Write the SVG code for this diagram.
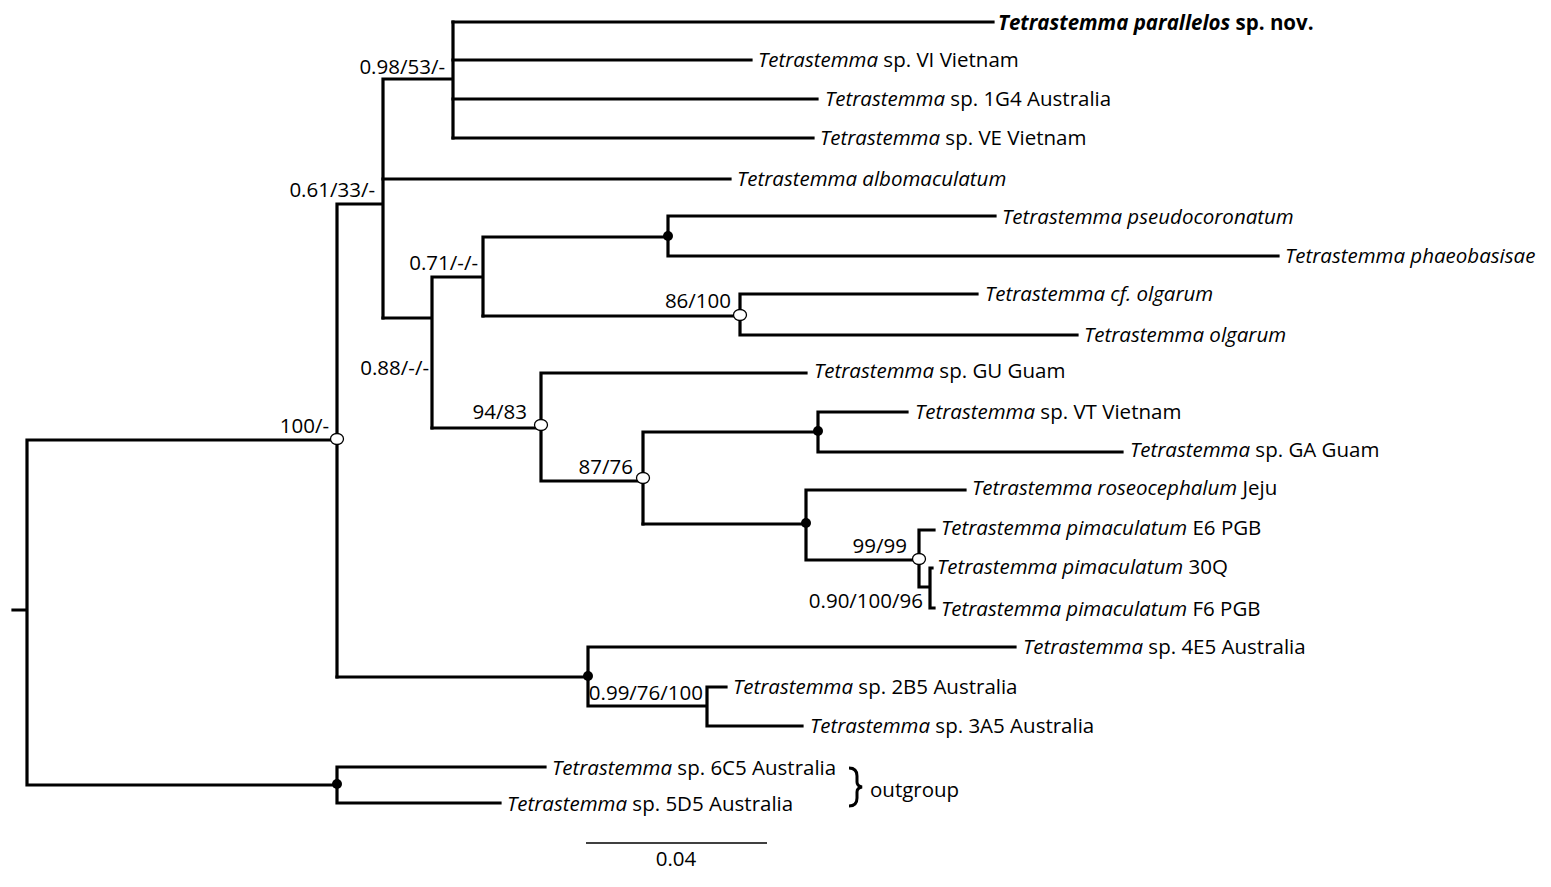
<svg xmlns="http://www.w3.org/2000/svg" width="1551" height="887" viewBox="0 0 1551 887">
<style>
.br{fill:none;stroke:#000;stroke-width:3.2;stroke-linecap:square}
text{font-family:"Open Sans","Liberation Sans",sans-serif;font-size:20.5px;fill:#000}
.sup{font-size:20.5px;text-anchor:end}
.i{font-style:italic}
.open{fill:#fff;stroke:#000;stroke-width:1.3}
.fill{fill:#000}
</style>
<rect width="1551" height="887" fill="#fff"/>
<g id="connectors">
<path class="br" d="M13 610H27M27 440V785M27 440H337M27 785H337"/>
<path class="br" d="M337 204V677M337 204H383M383 79V318M383 79H453M453 22V138"/>
<path class="br" d="M453 22H993M453 60H751M453 99H817M453 138H813M383 179H730"/>
<path class="br" d="M383 318H432M432 277V428M432 277H483M483 237V316M483 237H668M668 216V256M668 216H995M668 256H1278"/>
<path class="br" d="M483 316H740M740 294V335M740 294H977M740 335H1077"/>
<path class="br" d="M432 428H541M541 373V481M541 373H806M541 481H643M643 432V524M643 432H818M818 412V452M818 412H907M818 452H1122"/>
<path class="br" d="M643 524H806M806 490V560M806 490H965M806 560H919M919 530V587M919 530H934M919 587H930M930 568V608M930 568H932M930 608H934"/>
<path class="br" d="M337 677H588M588 647V706M588 647H1015M588 706H707M707 687V726M707 687H726M707 726H802"/>
<path class="br" d="M337 767V803M337 767H545M337 803H500"/>
<path d="M586 843H767" fill="none" stroke="#000" stroke-width="1.5"/>
</g>
<g id="nodes">
<ellipse class="open" cx="337" cy="439" rx="6.5" ry="5.5"/>
<ellipse class="open" cx="740" cy="315" rx="6.5" ry="5.5"/>
<ellipse class="open" cx="541" cy="425" rx="6.5" ry="5.5"/>
<ellipse class="open" cx="643" cy="478" rx="6.5" ry="5.5"/>
<ellipse class="open" cx="919" cy="559" rx="6.5" ry="5.5"/>
<circle class="fill" cx="668" cy="236" r="5"/>
<circle class="fill" cx="818" cy="431" r="5"/>
<circle class="fill" cx="806" cy="523" r="5"/>
<circle class="fill" cx="588" cy="676" r="5"/>
<circle class="fill" cx="337" cy="784" r="5"/>
</g>
<g id="support">
<text class="sup" x="445" y="74">0.98/53/-</text>
<text class="sup" x="375" y="197">0.61/33/-</text>
<text class="sup" x="478" y="270">0.71/-/-</text>
<text class="sup" x="429" y="375">0.88/-/-</text>
<text class="sup" x="731" y="308">86/100</text>
<text class="sup" x="527" y="419">94/83</text>
<text class="sup" x="633" y="474">87/76</text>
<text class="sup" x="907" y="553">99/99</text>
<text class="sup" x="923" y="608">0.90/100/96</text>
<text class="sup" x="703" y="700">0.99/76/100</text>
<text class="sup" x="329" y="433">100/-</text>
</g>
<g id="leaves">
<text id="t1" x="998" y="30" font-weight="bold"><tspan class="i">Tetrastemma parallelos</tspan> sp. nov.</text>
<text id="t2" x="758" y="67"><tspan class="i">Tetrastemma</tspan> sp. VI Vietnam</text>
<text id="t3" x="825" y="106"><tspan class="i">Tetrastemma</tspan> sp. 1G4 Australia</text>
<text id="t4" x="820" y="145"><tspan class="i">Tetrastemma</tspan> sp. VE Vietnam</text>
<text id="t5" x="737" y="186" class="i">Tetrastemma albomaculatum</text>
<text id="t6" x="1002" y="224" class="i">Tetrastemma pseudocoronatum</text>
<text id="t7" x="1285" y="263" class="i">Tetrastemma phaeobasisae</text>
<text id="t8" x="985" y="301" class="i">Tetrastemma cf. olgarum</text>
<text id="t9" x="1084" y="342" class="i">Tetrastemma olgarum</text>
<text id="t10" x="814" y="378"><tspan class="i">Tetrastemma</tspan> sp. GU Guam</text>
<text id="t11" x="915" y="419"><tspan class="i">Tetrastemma</tspan> sp. VT Vietnam</text>
<text id="t12" x="1130" y="457"><tspan class="i">Tetrastemma</tspan> sp. GA Guam</text>
<text id="t13" x="972" y="495"><tspan class="i">Tetrastemma roseocephalum</tspan> Jeju</text>
<text id="t14" x="941" y="535"><tspan class="i">Tetrastemma pimaculatum</tspan> E6 PGB</text>
<text id="t15" x="937" y="574"><tspan class="i">Tetrastemma pimaculatum</tspan> 30Q</text>
<text id="t16" x="941" y="616"><tspan class="i">Tetrastemma pimaculatum</tspan> F6 PGB</text>
<text id="t17" x="1023" y="654"><tspan class="i">Tetrastemma</tspan> sp. 4E5 Australia</text>
<text id="t18" x="733" y="694"><tspan class="i">Tetrastemma</tspan> sp. 2B5 Australia</text>
<text id="t19" x="810" y="733"><tspan class="i">Tetrastemma</tspan> sp. 3A5 Australia</text>
<text id="t20" x="552" y="775"><tspan class="i">Tetrastemma</tspan> sp. 6C5 Australia</text>
<text id="t21" x="507" y="811"><tspan class="i">Tetrastemma</tspan> sp. 5D5 Australia</text>
</g>
<g id="outgroup">
<path d="M849 768Q857 768 857 776V782Q857 786 862 787Q857 788 857 792V798Q857 806 849 806" fill="none" stroke="#000" stroke-width="3"/>
<text x="870" y="797">outgroup</text>
</g>
<g id="scale">
<text x="676" y="866" text-anchor="middle" font-size="13">0.04</text>
</g>
</svg>
